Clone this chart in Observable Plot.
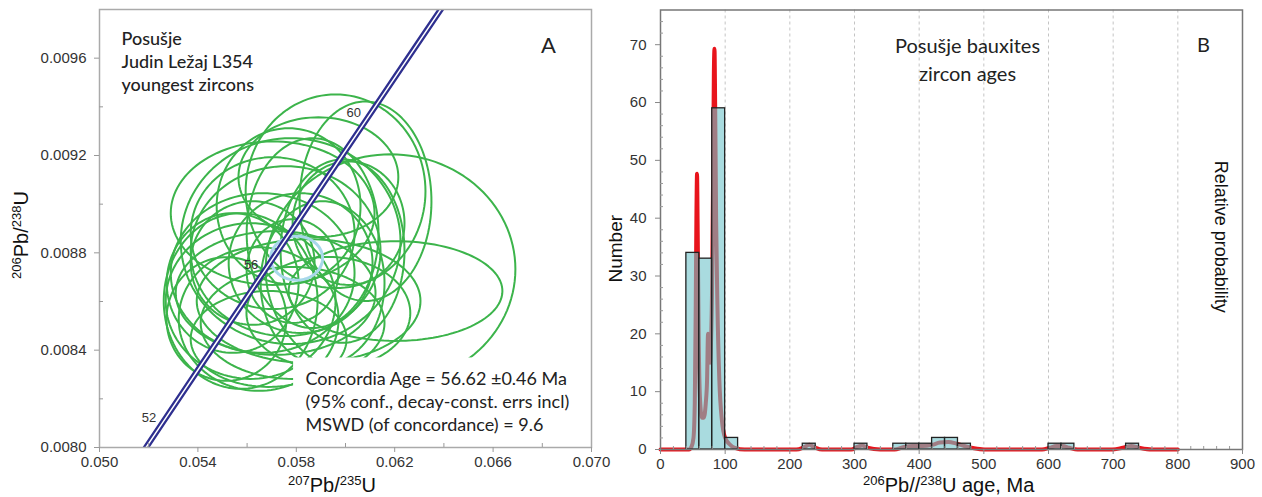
<!DOCTYPE html>
<html><head><meta charset="utf-8">
<script src="https://cdn.jsdelivr.net/npm/d3@7"></script>
<script src="https://cdn.jsdelivr.net/npm/@observablehq/plot@0.6"></script>
<style>
body{margin:0;background:#fff;}
#wrap{position:relative;width:1262px;height:497px;overflow:hidden;background:#fff;}
#a,#b{position:absolute;top:0;}
#a{left:0;} #b{left:598px;}
</style></head><body><div id="wrap"><div id="a"></div><div id="b"></div></div>
<script>
// ---------- Panel A: concordia diagram ----------
const ellX  = [0.06183,0.062033,0.060814,0.059596,0.057769,0.057566,0.056632,0.056144,0.056469,0.055738,0.057038,0.058175,0.058662,0.057687,0.057160,0.059068,0.056225,0.057850,0.059880,0.055413,0.056875,0.058500,0.060124,0.057038,0.057850,0.059304,0.055161,0.058898];
const ellY  = [0.008733,0.008643,0.009012,0.009053,0.008848,0.008807,0.008717,0.008602,0.008528,0.008602,0.008881,0.008758,0.008881,0.008992,0.008635,0.008676,0.008758,0.008512,0.008807,0.008676,0.008446,0.008602,0.008922,0.008963,0.008725,0.008553,0.008528,0.009111];
const ellRx = [0.005076,0.004345,0.002680,0.003655,0.004467,0.003858,0.003736,0.003452,0.003249,0.003127,0.003330,0.002924,0.002680,0.002924,0.004061,0.002518,0.002518,0.003736,0.002518,0.002680,0.003168,0.004548,0.002274,0.004142,0.001868,0.003330,0.002437,0.003249];
const ellRy = [0.000472,0.000205,0.000410,0.000398,0.000423,0.000349,0.000328,0.000320,0.000295,0.000361,0.000312,0.000287,0.000390,0.000320,0.000254,0.000336,0.000254,0.000230,0.000377,0.000287,0.000197,0.000254,0.000254,0.000295,0.000213,0.000230,0.000254,0.000246];
const ellTilt = [0,0.15,0.2,0,0,0.1,0,0.15,0,0.2,0,0.3,0.2,0,0.1,0,0,0.1,0.25,0,0.1,0,0,0,0.3,0.1,0,0];

const concAgeX = [0.058012], concAgeY = [0.008778], concAgeRx = [0.001056], concAgeRy = [0.0000903];

const concordiaAge = [50, 52, 54, 56, 58, 60, 62, 64];
const concordia207 = [0.050475, 0.052547, 0.054621, 0.056701, 0.058784, 0.060871, 0.062963, 0.065059];
const concordia206 = [0.0077864, 0.0080991, 0.0084119, 0.0087248, 0.0090378, 0.0093504, 0.0096642, 0.0099774];
const concordiaLabelAges = [52, 56, 60];

const xTicksA = [0.050, 0.054, 0.058, 0.062, 0.066, 0.070];
const xMinorA = [0.052, 0.056, 0.060, 0.064, 0.068];
const yTicksA = [0.0080, 0.0084, 0.0088, 0.0092, 0.0096];
const yMinorA = [0.0082, 0.0086, 0.0090, 0.0094];
const textBoxA = {x1: 0.05789, x2: 0.06995, y1: 0.00801, y2: 0.008368};

const sampleText = "Posušje\nJudin Ležaj L354\nyoungest zircons";
const resultText = "Concordia Age = 56.62 ±0.46 Ma\n(95% conf., decay-const. errs incl)\nMSWD (of concordance) = 9.6";

// ---------- Panel B: histogram ----------
const binStart = [40, 60, 80, 100, 220, 300, 360, 380, 400, 420, 440, 460, 600, 620, 720];
const binEnd   = [60, 80, 100, 120, 240, 320, 380, 400, 420, 440, 460, 480, 620, 640, 740];
const binCount = [34, 33, 59, 2, 1, 1, 1, 1, 1, 2, 2, 1, 1, 1, 1];

const probAge = [0,44,48,51,53,54.5,55.5,56.5,57.5,59,61,64,67,70,72,73.5,75,76.5,78,80,81.5,82.5,83.5,84.5,86,88,91,95,100,106,115,130,210,222,230,238,250,295,305,312,320,340,362,375,390,405,420,432,445,458,470,485,500,590,602,612,622,632,645,700,715,728,740,760,800];
const probVal = [0,0,0.5,2,8,25,40,47.7,38,20,9,5.5,5.5,8,12,20,17,15,18,30,50,65,69.3,60,40,25,12,5,2,1,0.3,0,0,0.4,0.8,0.4,0,0,0.5,0.7,0.3,0,0,0.4,0.6,0.6,0.8,1.2,1.3,1.0,0.6,0.2,0,0,0.3,0.6,0.6,0.3,0,0,0.3,0.6,0.3,0,0];

const titleLinesB = ["Posušje bauxites", "zircon ages"];
const xTicksB = [0,100,200,300,400,500,600,700,800,900];
const xMinorB = d3.range(20, 900, 20).filter(v => v % 100 !== 0);
const gridB = [100,200,300,400,500,600,700,800];
const yTicksB = [0,10,20,30,40,50,60,70];
const yMinorB = d3.range(2, 76, 2).filter(v => v % 10 !== 0);

// ---------- build ellipse outlines ----------
function outline(cx, cy, rx, ry, tilt, id) {
  const pts = [];
  for (let k = 0; k <= 120; k++) {
    const t = 2 * Math.PI * k / 120, u = Math.cos(t), v = Math.sin(t);
    pts.push({id, x: cx + rx * (u * Math.cos(tilt) - v * Math.sin(tilt)), y: cy + ry * (u * Math.sin(tilt) + v * Math.cos(tilt))});
  }
  return pts;
}
const ellPts = ellX.flatMap((cx, i) => outline(cx, ellY[i], ellRx[i], ellRy[i], ellTilt[i], i));
const concEllPts = outline(concAgeX[0], concAgeY[0], concAgeRx[0], concAgeRy[0], 0.2, 0);
const concordia = concordiaAge.map((a, i) => ({age: a, x: concordia207[i], y: concordia206[i]}));
const concLabels = concordia.filter(d => concordiaLabelAges.includes(d.age));

const tickFont = "Liberation Sans, Arial, sans-serif";
const noteFont = "Lato, 'Open Sans', sans-serif";

const plotA = Plot.plot({
  width: 625, height: 497,
  marginLeft: 99, marginRight: 34, marginTop: 9, marginBottom: 50,
  style: {fontFamily: tickFont, fontSize: "15px", background: "white"},
  x: {domain: [0.050, 0.070]},
  y: {domain: [0.0080, 0.0098]},
  marks: [
    Plot.line(ellPts, {x: "x", y: "y", z: "id", stroke: "#3cb44b", strokeWidth: 2, clip: true}),
    Plot.line(concEllPts, {x: "x", y: "y", stroke: "#a8d8ea", strokeWidth: 3}),
    Plot.line(concordia, {x: "x", y: "y", stroke: "#2e2f8f", strokeWidth: 6, clip: true}),
    Plot.line(concordia, {x: "x", y: "y", stroke: "white", strokeWidth: 1.5, clip: true}),
    Plot.rect([textBoxA], {x1: "x1", x2: "x2", y1: "y1", y2: "y2", fill: "white"}),
    Plot.text(concLabels, {x: "x", y: "y", text: d => String(d.age), textAnchor: "end", dx: -6, dy: -6, fontSize: 13, fill: "#333", fontFamily: tickFont}),
    Plot.text([sampleText], {frameAnchor: "top-left", textAnchor: "start", lineAnchor: "middle", dx: 22, dy: 51, fontSize: 18, lineHeight: 1.27, fill: "#222", fontFamily: noteFont, fontWeight: 500}),
    Plot.text(["A"], {frameAnchor: "top-right", textAnchor: "middle", lineAnchor: "middle", dx: -43, dy: 36, fontSize: 22, fill: "#222", fontFamily: noteFont}),
    Plot.text([resultText], {frameAnchor: "bottom-left", textAnchor: "start", lineAnchor: "middle", dx: 206, dy: -47, fontSize: 18, lineHeight: 1.3, fill: "#222", fontFamily: noteFont}),
    Plot.frame({stroke: "#aaa", strokeWidth: 1.5}),
    Plot.axisY(yTicksA, {tickSize: 5, tickPadding: 8, tickFormat: d3.format(".4f"), label: null, stroke: "#999", fill: "#333"}),
    Plot.axisY(yMinorA, {tickSize: -4, tickFormat: () => "", label: null, stroke: "#999"}),
    Plot.axisX(xTicksA, {tickSize: 5, tickPadding: 4, tickFormat: d3.format(".3f"), label: null, stroke: "#999", fill: "#333"}),
    Plot.axisX(xMinorA, {tickSize: -4, tickFormat: () => "", label: null, stroke: "#999"})
  ]
});

const plotB = Plot.plot({
  width: 664, height: 497,
  marginLeft: 62, marginRight: 20, marginTop: 9.5, marginBottom: 48,
  style: {fontFamily: tickFont, fontSize: "15px", background: "transparent", overflow: "visible"},
  x: {domain: [0, 900]},
  y: {domain: [0, 76]},
  marks: [
    Plot.gridX(gridB, {stroke: "#c4c4c4", strokeOpacity: 1, strokeDasharray: "3,3"}),
    Plot.line(probAge.map((a, i) => ({a, p: probVal[i]})), {x: "a", y: "p", stroke: "#e8141c", strokeWidth: 4, curve: "monotone-x"}),
    Plot.rectY(binStart.map((s, i) => ({s, e: binEnd[i], n: binCount[i]})), {x1: "s", x2: "e", y: "n", fill: "#6fc3ca", fillOpacity: 0.6, stroke: "#222", strokeWidth: 1.3}),
    Plot.text(titleLinesB, {frameAnchor: "top", textAnchor: "middle", lineAnchor: "middle", dx: 16, dy: (d, i) => 0, fontSize: 20, fill: "#222", fontFamily: noteFont, filter: (d, i) => i === 0, dy: 37}),
    Plot.text(titleLinesB, {frameAnchor: "top", textAnchor: "middle", lineAnchor: "middle", dx: 16, dy: 65, fontSize: 20, fill: "#222", fontFamily: noteFont, filter: (d, i) => i === 1}),
    Plot.text(["B"], {frameAnchor: "top-right", textAnchor: "middle", lineAnchor: "middle", dx: -39, dy: 36, fontSize: 20, fill: "#222", fontFamily: noteFont}),
    Plot.text(["Relative probability"], {frameAnchor: "right", textAnchor: "middle", lineAnchor: "middle", rotate: 90, dx: -22, dy: 7, fontSize: 18, fill: "#111", fontFamily: tickFont}),
    Plot.text(["Number"], {frameAnchor: "left", textAnchor: "middle", lineAnchor: "middle", rotate: -90, dx: -45, dy: 19, fontSize: 19, fill: "#111", fontFamily: tickFont}),
    Plot.frame({stroke: "#777", strokeWidth: 1.5}),
    Plot.axisY(yTicksB, {tickSize: 5, tickPadding: 9, label: null, stroke: "#888", fill: "#333"}),
    Plot.axisY(yMinorB, {tickSize: -3, tickFormat: () => "", label: null, stroke: "#999"}),
    Plot.axisX(xTicksB, {tickSize: 5, tickPadding: 4, label: null, stroke: "#888", fill: "#333"}),
    Plot.axisX(xMinorB, {tickSize: -3, tickFormat: () => "", label: null, stroke: "#999"})
  ]
});

document.getElementById("a").appendChild(plotA);
document.getElementById("b").appendChild(plotB);

// axis titles with superscripts
function supLabel(svg, x, y, parts, rotate, anchor) {
  const t = d3.select(svg).append("text")
    .attr("transform", `translate(${x},${y})` + (rotate ? ` rotate(${rotate})` : ""))
    .attr("text-anchor", anchor).attr("font-family", tickFont).attr("fill", "#111");
  let up = false;
  parts.forEach(([s, sup]) => {
    const ts = t.append("tspan").attr("font-size", sup ? 13 : 20).text(s);
    if (sup && !up) { ts.attr("dy", -7); up = true; }
    else if (!sup && up) { ts.attr("dy", 7); up = false; }
  });
}
supLabel(plotA, 288, 492, [["207", 1], ["Pb/", 0], ["235", 1], ["U", 0]], 0, "start");
supLabel(plotA, 28, 235, [["206", 1], ["Pb/", 0], ["238", 1], ["U", 0]], -90, "middle");
supLabel(plotB, 863 - 598, 492, [["206", 1], ["Pb//", 0], ["238", 1], ["U age, Ma", 0]], 0, "start");
</script>
</body></html>
